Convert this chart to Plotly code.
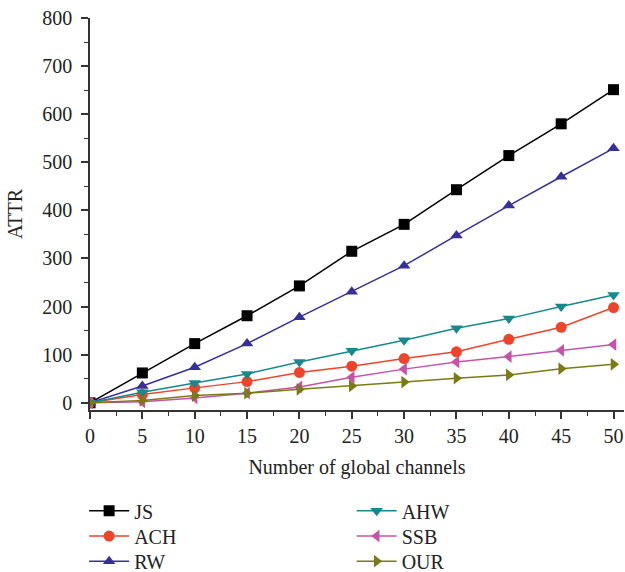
import plotly.graph_objects as go

x = [0, 5, 10, 15, 20, 25, 30, 35, 40, 45, 50]
js = [0, 62, 123, 181, 243, 315, 371, 443, 514, 580, 651]
ach = [0, 17, 31, 44, 63, 76, 92, 106, 132, 157, 198]
rw = [0, 35, 74, 123, 178, 231, 285, 348, 410, 470, 529]
ahw = [0, 22, 41, 60, 85, 108, 130, 155, 175, 200, 224]
ssb = [0, 2, 10, 20, 33, 53, 70, 85, 96, 109, 121]
our = [0, 5, 15, 20, 28, 35, 43, 51, 58, 71, 80]

series = [
    ("JS", js, "#000000", "square"),
    ("ACH", ach, "#f0442a", "circle"),
    ("RW", rw, "#37309a", "triangle-up"),
    ("AHW", ahw, "#17898a", "triangle-down"),
    ("SSB", ssb, "#c653a8", "triangle-left"),
    ("OUR", our, "#7b7b13", "triangle-right"),
]
legend_ids = ["legend", "legend2", "legend3", "legend4", "legend5", "legend6"]

fig = go.Figure()
for (name, vals, col, sym), leg in zip(series, legend_ids):
    fig.add_trace(go.Scatter(
        x=x, y=vals, name=name, mode="lines+markers",
        line=dict(color=col, width=1.5),
        marker=dict(symbol=sym, size=11, color=col),
        legend=leg,
    ))

font = "Liberation Serif, Times New Roman, serif"
axis_common = dict(
    showline=True, linecolor="#333333", linewidth=1.5,
    ticks="outside", ticklen=7, tickwidth=1.5, tickcolor="#333333",
    showgrid=False, zeroline=False, automargin=False,
    tickfont=dict(family=font, size=20, color="#222222"),
)
fig.update_xaxes(range=[0, 51], tickvals=[0, 5, 10, 15, 20, 25, 30, 35, 40, 45, 50],
                 tickangle=0,
                 minor=dict(dtick=2.5, tick0=0, ticks="outside", ticklen=4, tickwidth=1.2, tickcolor="#333333"),
                 title=dict(text="Number of global channels", font=dict(family=font, size=20, color="#222222"), standoff=14),
                 **axis_common)
fig.update_yaxes(range=[-15, 800], tickvals=[0, 100, 200, 300, 400, 500, 600, 700, 800],
                 minor=dict(dtick=50, tick0=0, ticks="outside", ticklen=4, tickwidth=1.2, tickcolor="#333333"),
                 title=dict(text="ATTR", font=dict(family=font, size=20, color="#222222"), standoff=14),
                 ticklabelstandoff=5,
                 **axis_common)

legend_common = dict(font=dict(family=font, size=20, color="#222222"),
                     bgcolor="rgba(0,0,0,0)", tracegroupgap=0,
                     xanchor="left", yanchor="top", yref="container", itemwidth=40)
col_x = [-0.011, -0.011, -0.011, 0.49, 0.49, 0.49]
row_y = [0.141, 0.097, 0.053, 0.141, 0.097, 0.053]
legend_layout = {leg: dict(x=lx, y=ly, **legend_common) for leg, lx, ly in zip(legend_ids, col_x, row_y)}

fig.update_layout(
    width=625, height=572,
    margin=dict(l=90, r=1, t=18, b=162, autoexpand=False),
    paper_bgcolor="white", plot_bgcolor="white",
    showlegend=True,
    **legend_layout,
)
fig.write_html("out.html", config={"displayModeBar": False},
               post_script="document.body.style.margin='0px';document.body.style.overflow='hidden';")
